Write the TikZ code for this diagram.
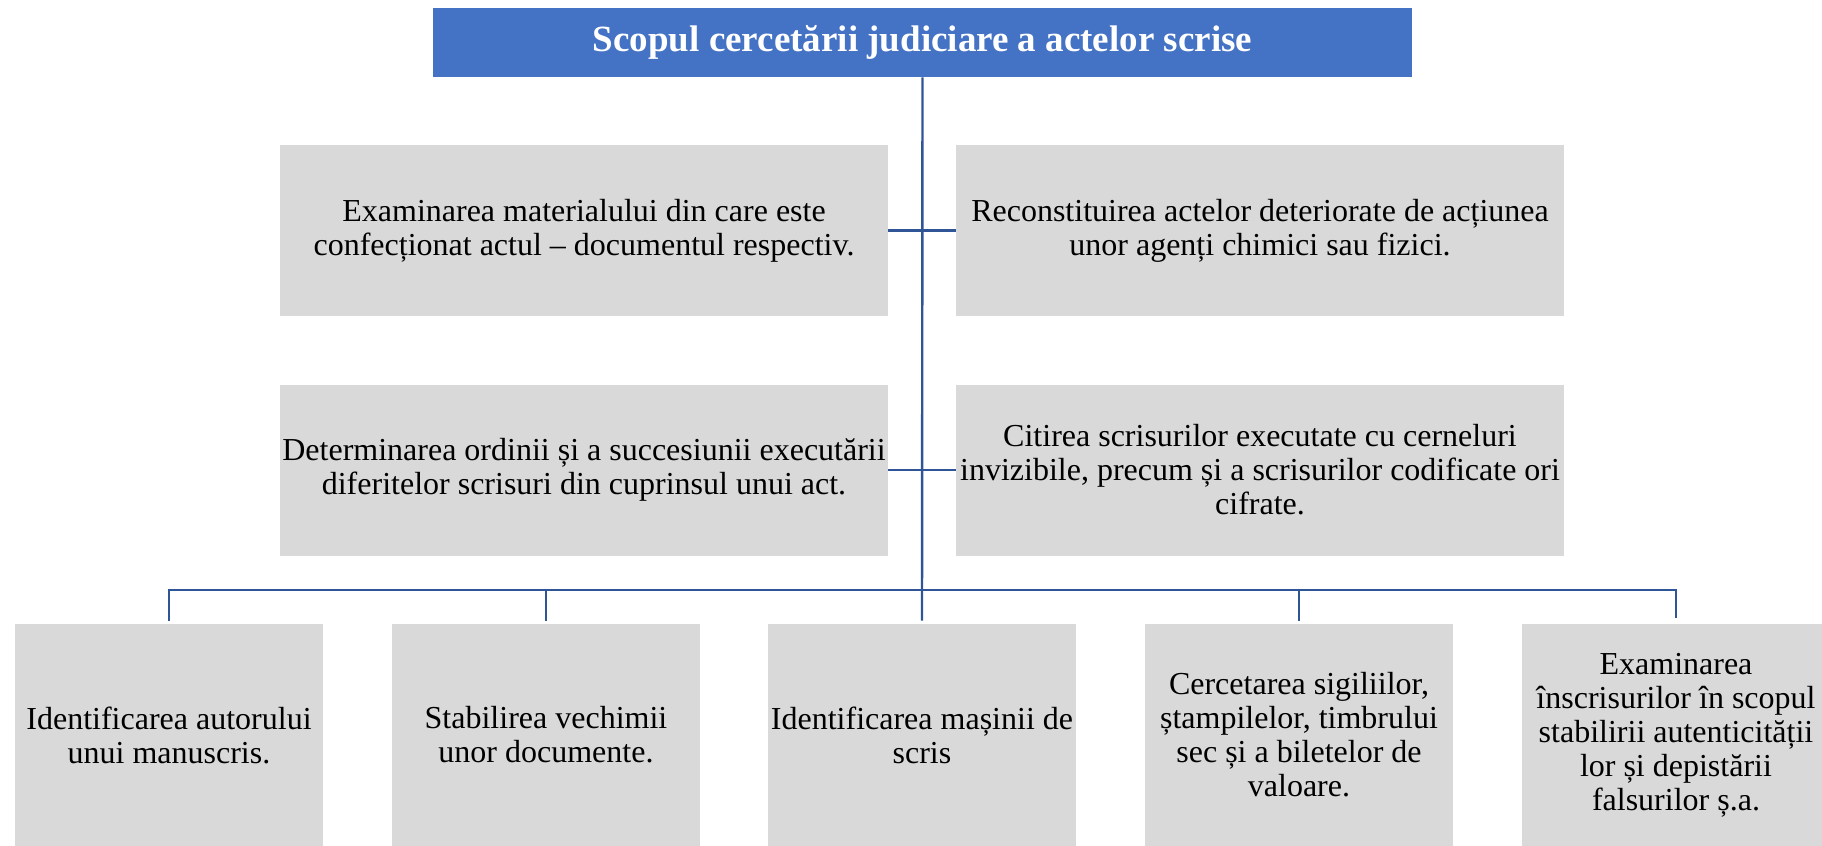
\documentclass[tikz,border=0pt]{standalone}
\usepackage{fontspec}
\setmainfont{Liberation Serif}
\usepackage{tikz}
\usetikzlibrary{positioning}
\definecolor{titleBlue}{HTML}{4472C4}
\definecolor{linkBlue}{RGB}{47,85,151}
\definecolor{boxGray}{HTML}{D9D9D9}

\begin{document}
\begin{tikzpicture}[
    x=0.5pt, y=-0.5pt,
    font=\fontsize{16}{17}\selectfont,
    heading/.style={fill=titleBlue, text=white, font=\fontsize{18.5}{20}\selectfont\bfseries, minimum width=489.5pt, minimum height=34.5pt, inner sep=0pt},
    aim/.style={fill=boxGray, align=center, minimum width=304pt, minimum height=85.5pt, inner sep=1pt},
    task/.style={fill=boxGray, align=center, minimum width=154pt, minimum height=111pt, inner sep=1pt},
    link/.style={draw=linkBlue, line width=1.2pt}
  ]
    \useasboundingbox (0,0) rectangle (1822,846);
    \clip (0,0) rectangle (1822,846);

    \node[heading] (title) at (922.5,42.5) {Scopul cercetării judiciare a actelor scrise};

    \node[aim] (aimL1) at (584,230.5) {Examinarea materialului din care este\\confecționat actul – documentul respectiv.};
    \node[aim] (aimR1) at (1260,230.5) {Reconstituirea actelor deteriorate de acțiunea\\unor agenți chimici sau fizici.};
    \node[aim] (aimL2) at (584,470) {Determinarea ordinii și a succesiunii executării\\diferitelor scrisuri din cuprinsul unui act.};
    \node[aim] (aimR2) at (1260,470) {Citirea scrisurilor executate cu cerneluri\\invizibile, precum și a scrisurilor codificate ori\\cifrate.};

    \node[task] (task1) at (169,735) {Identificarea autorului\\unui manuscris.};
    \node[task] (task2) at (546,735) {Stabilirea vechimii\\unor documente.};
    \node[task] (task3) at (922,735) {Identificarea mașinii de\\scris};
    \node[task] (task4) at (1299,735) {Cercetarea sigiliilor,\\ștampilelor, timbrului\\sec și a biletelor de\\valoare.};
    \node[task] (task5) at (1676,735) {Examinarea\\înscrisurilor în scopul\\stabilirii autenticității\\lor și depistării\\falsurilor ș.a.};

    \coordinate (bus) at (0,590);

    \draw[link, shorten >=1.5pt] (title.south) -- (task3.north);
    \draw[link] (aimL1.east) -- (aimR1.west);
    \draw[link] (aimL2.east) -- (aimR2.west);
    \draw[link, shorten >=1.5pt] (task1.north) ++(0,-3) -- (task1.north |- bus) -- (task5.north |- bus) -- ([yshift=1.5pt]task5.north);
    \draw[link, shorten >=1.5pt] (task2.north |- bus) -- (task2.north);
    \draw[link, shorten >=1.5pt] (task4.north |- bus) -- (task4.north);
  \end{tikzpicture}
\end{document}
